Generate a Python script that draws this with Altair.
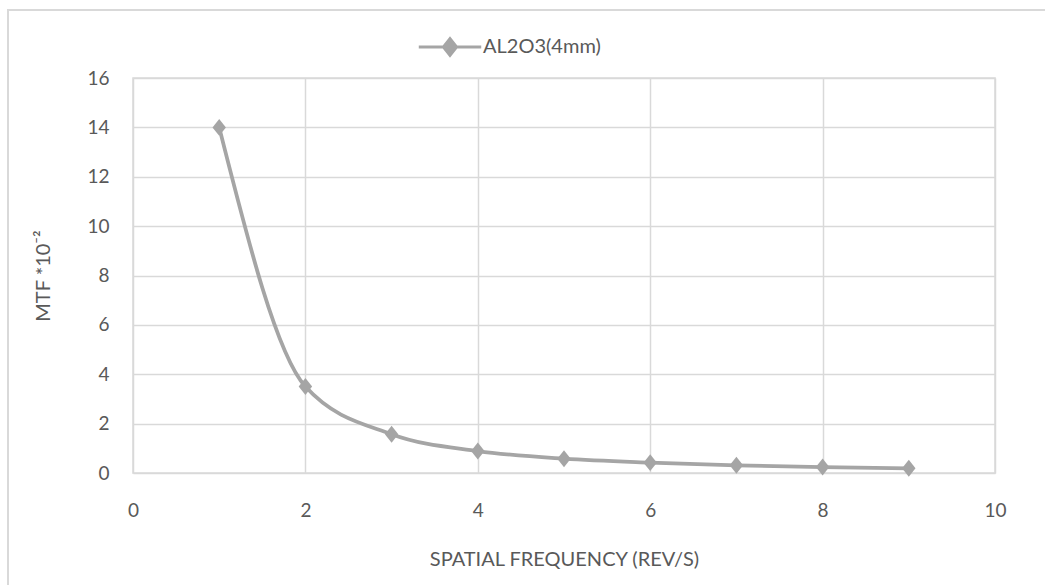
import altair as alt
import pandas as pd

# Measured MTF values for the Al2O3 (4 mm) sample
series_name = "AL2O3(4mm)"
spatial_freq = [1, 2, 3, 4, 5, 6, 7, 8, 9]
mtf_values = [14.0, 3.5, 1.57, 0.89, 0.58, 0.42, 0.31, 0.24, 0.19]

x_ticks = [0, 2, 4, 6, 8, 10]
y_ticks = [0, 2, 4, 6, 8, 10, 12, 14, 16]

df = pd.DataFrame({"freq": spatial_freq, "mtf": mtf_values, "series": series_name})

GRAY = "#A5A5A5"
GRID = "#D9D9D9"
TEXT = "#595959"
FONT = "Lato"
FS = 19

x_enc = alt.X(
    "freq:Q",
    scale=alt.Scale(domain=[0, 10], nice=False),
    axis=alt.Axis(
        values=x_ticks,
        format="d",
        title="SPATIAL FREQUENCY (REV/S)",
        ticks=False,
        domain=False,
        labelFlush=False,
        labelPadding=28,
        titlePadding=29,
    ),
)
y_enc = alt.Y(
    "mtf:Q",
    scale=alt.Scale(domain=[0, 16], nice=False),
    axis=alt.Axis(
        values=y_ticks,
        format="d",
        title="MTF *10⁻²",
        ticks=False,
        domain=False,
        labelFlush=False,
        labelPadding=24,
        titlePadding=33,
    ),
)
color_enc = alt.Color(
    "series:N",
    scale=alt.Scale(range=[GRAY]),
    legend=alt.Legend(
        title=None,
        orient="none",
        legendX=284,
        legendY=-64,
        direction="horizontal",
        symbolType="M-1,0H1M0,-0.27L0.21,0L0,0.27L-0.21,0Z",
        symbolSize=3900,
        symbolStrokeWidth=3,
        symbolFillColor=GRAY,
        symbolStrokeColor=GRAY,
        labelFontSize=FS + 1,
        labelColor=TEXT,
        labelFont=FONT,
        labelOffset=0,
    ),
)

# Frame around the whole chart
frame = alt.Chart(df).mark_rect(
    fill=None, stroke=GRID, strokeWidth=1.5
).encode(
    x=alt.value(-125), x2=alt.value(1100), y=alt.value(-68), y2=alt.value(700)
)

line = alt.Chart(df).mark_line(
    interpolate="monotone", strokeWidth=3.8
).encode(x=x_enc, y=y_enc, color=color_enc)

points = alt.Chart(df).mark_point(
    shape="M0,-1.2L0.95,0L0,1.2L-0.95,0Z", size=200, filled=True, opacity=1
).encode(x="freq:Q", y="mtf:Q", color=alt.Color("series:N", legend=None))

chart = (
    alt.layer(frame, line, points)
    .properties(
        width=862,
        height=395,
        autosize=alt.AutoSizeParams(type="none"),
        padding={"left": 133, "top": 78, "right": 50, "bottom": 112},
        background="white",
    )
    .configure_view(stroke=GRID, strokeWidth=1.5)
    .configure_axis(
        grid=True,
        gridColor=GRID,
        gridWidth=1.5,
        labelFont=FONT,
        titleFont=FONT,
        labelFontSize=FS,
        titleFontSize=FS + 1,
        labelColor=TEXT,
        titleColor=TEXT,
        titleFontWeight="normal",
    )
)

chart.save("out.html", embed_options={"renderer": "svg", "actions": False})
